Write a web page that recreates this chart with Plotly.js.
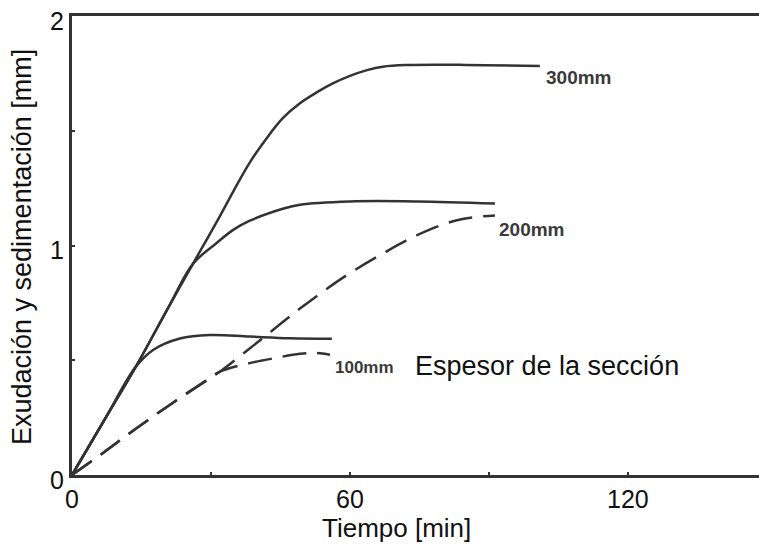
<!DOCTYPE html>
<html>
<head>
<meta charset="utf-8">
<script src="https://cdn.plot.ly/plotly-3.0.1.min.js"></script>
<style>html,body{margin:0;padding:0;background:#fff;}#chart{width:759px;height:544px;}</style>
</head>
<body>
<div id="chart"></div>
<script>
// Solid curves (exudación)
const x300 = [0, 7.0, 14.0, 21.2, 26.1, 31.3, 34.8, 38.4, 42.1, 45.5, 49.2, 52.9, 56.3, 60.0, 63.7, 67.1, 72.0, 85.0, 101.0];
const y300 = [0, 0.240, 0.480, 0.745, 0.920, 1.105, 1.235, 1.362, 1.470, 1.555, 1.620, 1.668, 1.706, 1.739, 1.764, 1.779, 1.786, 1.787, 1.782];
const x200s = [0, 7.0, 14.0, 21.2, 26.1, 31.3, 34.8, 38.4, 45.5, 49.2, 60.0, 74.5, 91.3];
const y200s = [0, 0.240, 0.480, 0.745, 0.920, 1.012, 1.068, 1.108, 1.160, 1.178, 1.192, 1.192, 1.183];
const x100s = [0, 7.0, 13.6, 17.5, 23.3, 29.8, 38.4, 47.1, 56.1];
const y100s = [0, 0.240, 0.467, 0.545, 0.595, 0.610, 0.603, 0.596, 0.594];
// Dashed curves (sedimentación)
const x200d = [0, 6.7, 14.0, 21.8, 29.1, 31.9, 39.9, 49.2, 58.5, 67.1, 74.5, 83.1, 91.3];
const y200d = [0, 0.096, 0.205, 0.315, 0.413, 0.450, 0.576, 0.725, 0.860, 0.965, 1.045, 1.110, 1.131];
const x100d = [0, 6.7, 14.0, 21.8, 29.1, 31.9, 37.8, 44.2, 49.2, 52.4, 55.7];
const y100d = [0, 0.096, 0.205, 0.315, 0.413, 0.450, 0.485, 0.511, 0.528, 0.532, 0.524];
// Labels
const seriesLabels = ['300mm', '200mm', '100mm'];
const xTickVals = [0, 30, 60, 90, 120];
const xTickText = ['0', '', '60', '', '120'];
const yTickVals = [0, 0.5, 1, 1.5, 2];
const yTickText = ['0', '', '1', '', '2'];
const noteText = 'Espesor de la sección';
const xTitle = 'Tiempo [min]';
const yTitle = 'Exudación y sedimentación [mm]';

const FONT = 'Liberation Sans, Arial, sans-serif';
const LC = '#333333';
const solid = {color: LC, width: 2.5, shape: 'spline', smoothing: 1.0};
const dashed = {color: LC, width: 2.5, shape: 'spline', smoothing: 1.0, dash: '24px,11px'};

const traces = [
  {x: x300, y: y300, mode: 'lines', line: solid},
  {x: x200s, y: y200s, mode: 'lines', line: solid},
  {x: x100s, y: y100s, mode: 'lines', line: solid},
  {x: x200d, y: y200d, mode: 'lines', line: dashed},
  {x: x100d, y: y100d, mode: 'lines', line: dashed}
];

const last = a => a[a.length - 1];
const lblFont = s => ({family: FONT, size: s, color: '#3a3a3a', weight: 'bold'});

const layout = {
  width: 759, height: 544,
  margin: {l: 72, r: 0, t: 16, b: 69, pad: 0},
  paper_bgcolor: '#fff', plot_bgcolor: '#fff',
  showlegend: false,
  xaxis: {
    range: [0, 148.3], showgrid: false, zeroline: false,
    showline: true, linecolor: LC, linewidth: 3, mirror: true,
    ticks: 'inside', ticklen: 3, tickwidth: 2, tickcolor: LC,
    tickvals: xTickVals, ticktext: xTickText,
    tickfont: {family: FONT, size: 25, color: '#111'}
  },
  yaxis: {
    range: [0, 2], showgrid: false, zeroline: false,
    showline: true, linecolor: LC, linewidth: 3, mirror: false,
    ticks: 'inside', ticklen: 3, tickwidth: 2, tickcolor: LC,
    tickvals: yTickVals, ticktext: yTickText, ticklabelshift: 5,
    tickfont: {family: FONT, size: 25, color: '#111'}
  },
  annotations: [
    {x: last(x300), y: last(y300), xref: 'x', yref: 'y', text: seriesLabels[0], showarrow: false,
     xanchor: 'left', yanchor: 'middle', xshift: 4, yshift: -11, font: lblFont(19)},
    {x: last(x200d), y: last(y200d), xref: 'x', yref: 'y', text: seriesLabels[1], showarrow: false,
     xanchor: 'left', yanchor: 'middle', xshift: 2, yshift: -14, font: lblFont(19)},
    {x: last(x100d), y: last(y100d), xref: 'x', yref: 'y', text: seriesLabels[2], showarrow: false,
     xanchor: 'left', yanchor: 'middle', xshift: 3, yshift: -13, font: lblFont(17)},
    {x: 73.6, y: 0.476, xref: 'x', yref: 'y', text: noteText, showarrow: false,
     xanchor: 'left', yanchor: 'middle', font: {family: FONT, size: 27, color: '#111'}},
    {x: 0, y: 0, xref: 'paper', yref: 'paper', text: xTitle, showarrow: false,
     xanchor: 'center', yanchor: 'middle', font: {family: FONT, size: 26, color: '#111'}},
    {x: 0, y: 0, xref: 'paper', yref: 'paper', text: yTitle, showarrow: false,
     textangle: -90, xanchor: 'center', yanchor: 'middle', font: {family: FONT, size: 27, color: '#111'}}
  ]
};
// place axis titles relative to the plot area
(function () {
  const pw = 759 - 72, ph = 544 - 85;
  const a4 = layout.annotations[4];
  a4.x = (396 - 72) / pw; a4.y = (475 - 528) / ph;
  const a5 = layout.annotations[5];
  a5.x = (22 - 72) / pw; a5.y = (475 - 247) / ph;
})();

Plotly.newPlot('chart', traces, layout, {staticPlot: true, displayModeBar: false});
</script>
</body>
</html>
